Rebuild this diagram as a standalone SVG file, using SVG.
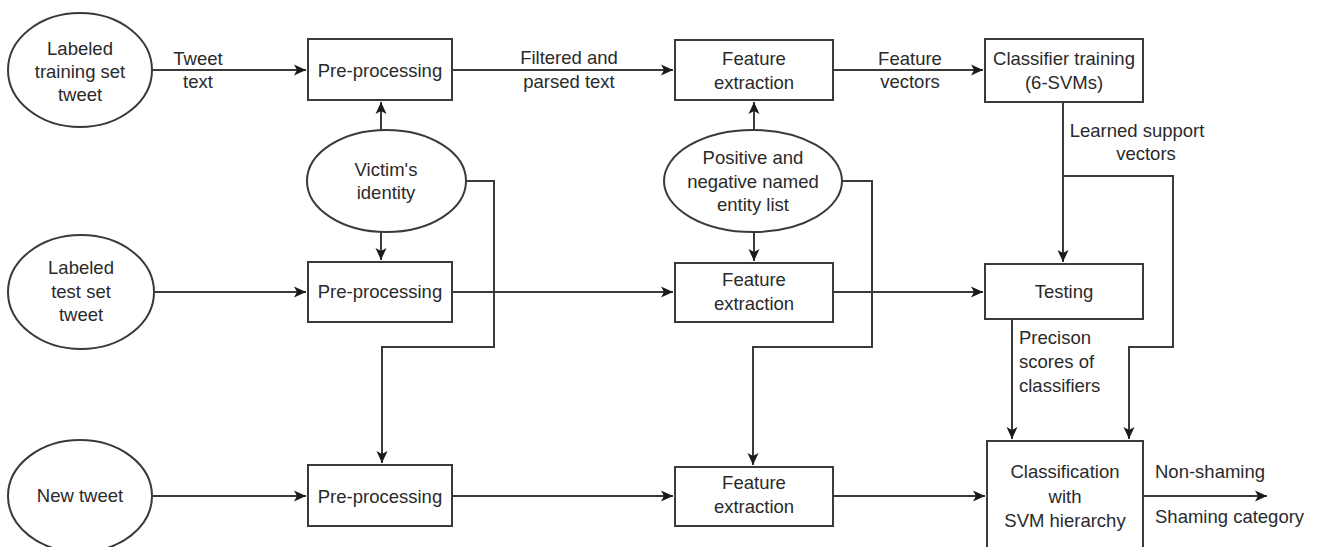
<svg xmlns="http://www.w3.org/2000/svg" width="1322" height="547" viewBox="0 0 1322 547">
<style>
.n{fill:#fff;stroke:#3a3a3a;stroke-width:2}
.c{fill:none;stroke:#3a3a3a;stroke-width:2}
text{font-family:"Liberation Sans",Arial,sans-serif;font-size:18.5px;fill:#2a2a2a}
.m{text-anchor:middle}
</style>
<defs>
<marker id="ah" markerUnits="userSpaceOnUse" markerWidth="13" markerHeight="12" refX="12" refY="6" orient="auto">
<path d="M0,0.5 L12,6 L0,11.5 L3,6 z" fill="#1a1a1a"/>
</marker>
</defs>
<rect width="1322" height="547" fill="#fff"/>
<g id="connectors">
<path class="c" d="M152,70 H306" marker-end="url(#ah)"/>
<path class="c" d="M452,70 H673" marker-end="url(#ah)"/>
<path class="c" d="M833,70 H983" marker-end="url(#ah)"/>
<path class="c" d="M381,130 V102" marker-end="url(#ah)"/>
<path class="c" d="M381,232 V260" marker-end="url(#ah)"/>
<path class="c" d="M466,181 H494 V347 H382 V463" marker-end="url(#ah)"/>
<path class="c" d="M754,130 V102" marker-end="url(#ah)"/>
<path class="c" d="M754,232 V261" marker-end="url(#ah)"/>
<path class="c" d="M842,181 H872 V347 H753 V465" marker-end="url(#ah)"/>
<path class="c" d="M155,292 H306" marker-end="url(#ah)"/>
<path class="c" d="M452,292 H673" marker-end="url(#ah)"/>
<path class="c" d="M833,292 H983" marker-end="url(#ah)"/>
<path class="c" d="M1063,102 V262" marker-end="url(#ah)"/>
<path class="c" d="M1063,176 H1173 V347 H1129 V439" marker-end="url(#ah)"/>
<path class="c" d="M1012,319 V439" marker-end="url(#ah)"/>
<path class="c" d="M152,496 H306" marker-end="url(#ah)"/>
<path class="c" d="M452,496 H673" marker-end="url(#ah)"/>
<path class="c" d="M833,496 H985" marker-end="url(#ah)"/>
<path class="c" d="M1143,496 H1267" marker-end="url(#ah)"/>
</g>
<g id="edge-labels">
<text class="m" x="198" y="65">Tweet</text>
<text class="m" x="198" y="88">text</text>
<text class="m" x="569" y="64">Filtered and</text>
<text class="m" x="569" y="88">parsed text</text>
<text class="m" x="910" y="65">Feature</text>
<text class="m" x="910" y="88">vectors</text>
<text class="m" x="1137" y="137">Learned support</text>
<text class="m" x="1146" y="160">vectors</text>
<text x="1019" y="344">Precison</text>
<text x="1019" y="368">scores of</text>
<text x="1019" y="392">classifiers</text>
<text x="1155" y="478">Non-shaming</text>
<text x="1155" y="523">Shaming category</text>
</g>
<g id="train-tweet">
<ellipse class="n" cx="80" cy="70" rx="72" ry="57"/>
<text class="m" x="80" y="55">Labeled</text>
<text class="m" x="80" y="78">training set</text>
<text class="m" x="80" y="101">tweet</text>
</g>
<g id="test-tweet">
<ellipse class="n" cx="81" cy="292" rx="73" ry="57"/>
<text class="m" x="81" y="274">Labeled</text>
<text class="m" x="81" y="298">test set</text>
<text class="m" x="81" y="321">tweet</text>
</g>
<g id="new-tweet">
<ellipse class="n" cx="80" cy="496" rx="72" ry="56"/>
<text class="m" x="80" y="502">New tweet</text>
</g>
<g id="victim">
<ellipse class="n" cx="386.5" cy="181" rx="79.5" ry="51"/>
<text class="m" x="386" y="176">Victim's</text>
<text class="m" x="386" y="199">identity</text>
</g>
<g id="entity-list">
<ellipse class="n" cx="753" cy="181" rx="89" ry="51"/>
<text class="m" x="753" y="164">Positive and</text>
<text class="m" x="753" y="188">negative named</text>
<text class="m" x="753" y="211">entity list</text>
</g>
<g id="pp1">
<rect class="n" x="308" y="39" width="144" height="61"/>
<text class="m" x="380" y="77">Pre-processing</text>
</g>
<g id="pp2">
<rect class="n" x="308" y="262" width="144" height="60"/>
<text class="m" x="380" y="298">Pre-processing</text>
</g>
<g id="pp3">
<rect class="n" x="308" y="465" width="144" height="61"/>
<text class="m" x="380" y="503">Pre-processing</text>
</g>
<g id="fe1">
<rect class="n" x="675" y="40" width="158" height="60"/>
<text class="m" x="754" y="65">Feature</text>
<text class="m" x="754" y="89">extraction</text>
</g>
<g id="fe2">
<rect class="n" x="675" y="263" width="158" height="59"/>
<text class="m" x="754" y="286">Feature</text>
<text class="m" x="754" y="310">extraction</text>
</g>
<g id="fe3">
<rect class="n" x="675" y="467" width="158" height="59"/>
<text class="m" x="754" y="489">Feature</text>
<text class="m" x="754" y="513">extraction</text>
</g>
<g id="classifier-training">
<rect class="n" x="985" y="39" width="158" height="63"/>
<text class="m" x="1064" y="65">Classifier training</text>
<text class="m" x="1064" y="89">(6-SVMs)</text>
</g>
<g id="testing">
<rect class="n" x="985" y="264" width="158" height="55"/>
<text class="m" x="1064" y="298">Testing</text>
</g>
<g id="classification">
<rect class="n" x="987" y="441" width="156" height="120"/>
<text class="m" x="1065" y="478">Classification</text>
<text class="m" x="1065" y="503">with</text>
<text class="m" x="1065" y="527">SVM hierarchy</text>
</g>
</svg>
